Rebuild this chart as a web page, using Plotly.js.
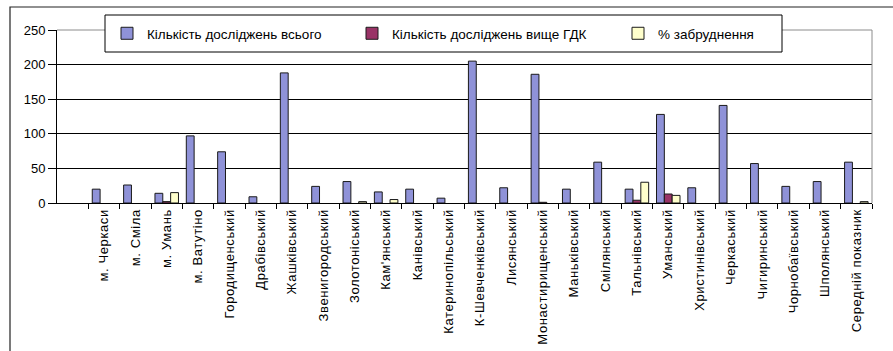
<!DOCTYPE html>
<html>
<head>
<meta charset="utf-8">
<script src="https://cdn.plot.ly/plotly-3.0.1.min.js"></script>
<style>
  html, body { margin: 0; padding: 0; background: #fff; }
  #chart { width: 893px; height: 351px; }
  /* slightly open letter spacing for the category labels */
  #chart .xtick text { letter-spacing: 0.6px; }
</style>
</head>
<body>
<div id="chart"></div>
<script>
// Districts of Cherkasy region
const districts = [
  "м. Черкаси", "м. Сміла", "м. Умань", "м. Ватутіно", "Городищенський",
  "Драбівський", "Жашківський", "Звенигородський", "Золотоніський", "Кам'янський",
  "Канівський", "Катеринопільський", "К-Шевченківський", "Лисянський", "Монастирищенський",
  "Маньківський", "Смілянський", "Тальнівський", "Уманський", "Христинівський",
  "Черкаський", "Чигиринський", "Чорнобаївський", "Шполянський", "Середній показник"
];

// Total number of samples tested
const totalTests = [20, 26, 14, 97, 74, 9, 188, 24, 31, 16, 20, 7, 205, 22, 186, 20, 59, 20, 128, 22, 141, 57, 24, 31, 59];
// Samples above the maximum permissible concentration
const aboveLimit = [0, 0, 2, 0, 0, 0, 0, 0, 0, 0, 0, 0, 0, 0, 1, 0, 0, 4, 13, 0, 0, 0, 0, 0, 0];
// Contamination, %
const pollutionPct = [0, 0, 15, 0, 0, 0, 0, 0, 2, 5, 0, 0, 0, 0, 0, 0, 0, 30, 11, 0, 0, 0, 0, 0, 2];

const seriesNames = ["Кількість досліджень всього", "Кількість досліджень вище ГДК", "% забруднення"];
const yTicks = [0, 50, 100, 150, 200, 250];

const FONT = "Arial, 'Liberation Sans', sans-serif";

// plot area geometry in pixels (used to place paper-referenced decorations)
const W = 893, H = 351, L = 57, R = 21, T = 30, B = 148;
const pw = W - L - R, ph = H - T - B;
const px = v => (v - L) / pw;
const py = v => (H - B - v) / ph;

// zero values leave an empty slot in the group
const bars = arr => arr.map(v => (v === 0 ? null : v));

const barLine = { color: "#1a1a1a", width: 1 };

const traces = [
  { type: "bar", name: seriesNames[0], x: districts, y: bars(totalTests),
    marker: { color: "#8f92d8", line: barLine }, legend: "legend" },
  { type: "bar", name: seriesNames[1], x: districts, y: bars(aboveLimit),
    marker: { color: "#993366", line: barLine }, legend: "legend2" },
  { type: "bar", name: seriesNames[2], x: districts, y: bars(pollutionPct),
    marker: { color: "#ffffcc", line: barLine }, legend: "legend3" }
];

const legendBase = {
  orientation: "h", xanchor: "left", yanchor: "middle",
  y: py(33.5), bgcolor: "rgba(0,0,0,0)", borderwidth: 0,
  font: { family: FONT, size: 13.5, color: "#000" }
};

const layout = {
  width: W, height: H,
  margin: { l: L, r: R, t: T, b: B, pad: 0 },
  paper_bgcolor: "#fff", plot_bgcolor: "#fff",
  barmode: "group", bargap: 0.25, bargroupgap: 0,
  showlegend: true,
  legend: Object.assign({}, legendBase, { x: px(107) }),
  legend2: Object.assign({}, legendBase, { x: px(352) }),
  legend3: Object.assign({}, legendBase, { x: px(618) }),
  xaxis: {
    type: "category",
    range: [-1.5, districts.length - 0.5],
    tickson: "boundaries",
    ticks: "outside", ticklen: 5, tickcolor: "#000", tickwidth: 1,
    tickangle: -90,
    tickfont: { family: FONT, size: 13, color: "#000" },
    showline: true, linecolor: "#000", linewidth: 1,
    showgrid: false, zeroline: false, fixedrange: true
  },
  yaxis: {
    range: [0, 250],
    tickvals: yTicks,
    ticks: "outside", ticklen: 8, tickcolor: "#000", tickwidth: 1,
    tickfont: { family: FONT, size: 13, color: "#000" },
    showline: true, linecolor: "#000", linewidth: 1,
    showgrid: true, gridcolor: "#000", gridwidth: 1,
    zeroline: false, fixedrange: true
  },
  shapes: [
    // outer chart frame
    { type: "rect", xref: "paper", yref: "paper", layer: "above",
      x0: px(10), x1: 1.2, y0: -1.0, y1: py(7),
      line: { color: "#222", width: 1.2 }, fillcolor: "rgba(0,0,0,0)" },
    // grey plot-area border on top and right
    { type: "line", xref: "paper", yref: "paper", layer: "above",
      x0: 0, x1: 1, y0: 1, y1: 1, line: { color: "#8c8c8c", width: 1 } },
    { type: "line", xref: "paper", yref: "paper", layer: "above",
      x0: 1, x1: 1, y0: 0, y1: 1, line: { color: "#8c8c8c", width: 1 } },
    // legend box
    { type: "rect", xref: "paper", yref: "paper", layer: "above",
      x0: px(105), x1: px(782), y0: py(52), y1: py(15),
      line: { color: "#000", width: 1 }, fillcolor: "#fff" }
  ]
};

Plotly.newPlot("chart", traces, layout, { displayModeBar: false, staticPlot: true });
</script>
</body>
</html>
